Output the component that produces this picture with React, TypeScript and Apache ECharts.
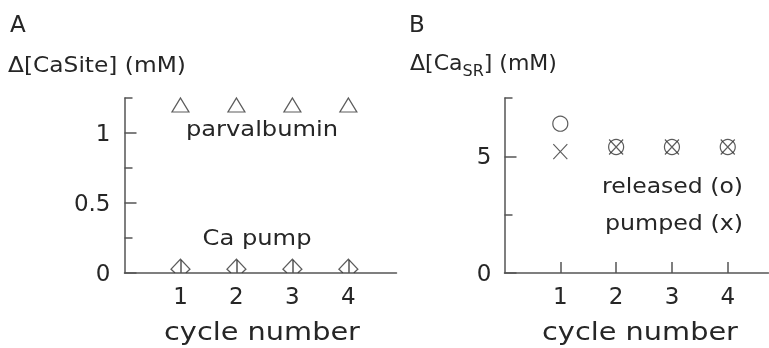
import React, { useEffect, useRef } from "react";
import * as echarts from "echarts";

// ---- data ----
const cycles = [1, 2, 3, 4];
const parvalbumin = [1.2, 1.2, 1.2, 1.2];
const caPump = [0.027, 0.027, 0.027, 0.027];
const released = [6.4, 5.4, 5.4, 5.4];
const pumped = [5.2, 5.4, 5.4, 5.4];

const yMajorA = [0, 0.5, 1];
const yMinorA = [0.25, 0.75, 1.25];
const yMajorB = [0, 5];
const yMinorB = [2.5, 7.5];
const xTicks = [1, 2, 3, 4];

const FONT = "DejaVu Sans";
const TXT = "#262626";
const AX = "#555";

const pairs = (ys: number[]) => cycles.map((c, i) => [c, ys[i]]);

export default function App() {
  const ref = useRef<HTMLDivElement>(null);
  useEffect(() => {
    const chart = echarts.init(ref.current!, null, { renderer: "svg" });
    const axisLine = { show: true, lineStyle: { color: AX, width: 1.5 } };
    const xAxis = (gridIndex: number, max: number, tickLen: number) => ({
      type: "value",
      gridIndex,
      min: 0,
      max,
      axisLine,
      splitLine: { show: false },
      axisTick: { show: true, inside: true, length: tickLen, customValues: xTicks, lineStyle: { color: AX, width: 1.5 } },
      axisLabel: { customValues: xTicks, margin: 11, fontSize: 23, fontFamily: FONT, color: TXT },
    });
    const yAxes = (gridIndex: number, max: number, major: number[], minor: number[], margin: number) => [
      {
        type: "value",
        gridIndex,
        min: 0,
        max,
        position: "left",
        axisLine,
        splitLine: { show: false },
        axisTick: { show: true, inside: true, length: 8, customValues: minor, lineStyle: { color: AX, width: 1.5 } },
        axisLabel: { customValues: major, margin, fontSize: 23, fontFamily: FONT, color: TXT },
      },
      {
        type: "value",
        gridIndex,
        min: 0,
        max,
        position: "left",
        axisLine: { show: false },
        splitLine: { show: false },
        axisTick: { show: true, inside: true, length: 12, customValues: major, lineStyle: { color: AX, width: 1.5 } },
        axisLabel: { show: false },
      },
    ];
    const mark = { color: "transparent", borderColor: "#333", borderWidth: 1.2 };
    const XPATH = "path://M0,0L10,10M0,10L10,0";
    // diamond whose lower tip is hidden below the x axis
    const DIAMOND = "path://M4,13.7L0,10L9.5,0L19,10L15,13.7";
    const txt = (text: string, x: number, y: number, size: number, align: string, scaleX = 1) => ({
      type: "text",
      x,
      y,
      scaleX,
      silent: true,
      style: { text, fontSize: size, fontFamily: FONT, fill: TXT, align, verticalAlign: "middle" },
    });

    chart.setOption({
      animation: false,
      grid: [
        { left: 124.5, top: 98, width: 272, height: 175 },
        { left: 504.5, top: 98, width: 264, height: 175 },
      ],
      xAxis: [xAxis(0, 4.86, 13), xAxis(1, 4.73, 11)],
      yAxis: [...yAxes(0, 1.25, yMajorA, yMinorA, 14), ...yAxes(1, 7.5, yMajorB, yMinorB, 13)],
      series: [
        {
          type: "scatter",
          name: "parvalbumin",
          xAxisIndex: 0,
          yAxisIndex: 0,
          data: pairs(parvalbumin),
          symbol: "triangle",
          symbolSize: [17, 14],
          itemStyle: mark,
        },
        {
          type: "scatter",
          name: "Ca pump",
          xAxisIndex: 0,
          yAxisIndex: 0,
          data: pairs(caPump),
          symbol: DIAMOND,
          symbolSize: [19, 13.7],
          symbolOffset: [0, -3.2],
          itemStyle: mark,
        },
        {
          type: "scatter",
          name: "released",
          xAxisIndex: 1,
          yAxisIndex: 2,
          data: pairs(released),
          symbol: "circle",
          symbolSize: 15,
          itemStyle: mark,
        },
        {
          type: "scatter",
          name: "pumped",
          xAxisIndex: 1,
          yAxisIndex: 2,
          data: pairs(pumped),
          symbol: XPATH,
          symbolSize: [14, 15],
          itemStyle: mark,
        },
      ],
      graphic: [
        txt("A", 10, 24, 23, "left"),
        txt("B", 409, 24, 23, "left"),
        txt("\u0394[CaSite] (mM)", 8, 64, 22, "left", 1.06),
        {
          type: "text",
          x: 410,
          y: 62,
          silent: true,
          style: {
            text: "{a|\u0394[Ca}{s|SR}{a|] (mM)}",
            align: "left",
            verticalAlign: "middle",
            rich: {
              a: { fontSize: 22, fontFamily: FONT, fill: TXT, color: TXT },
              s: { fontSize: 16, fontFamily: FONT, fill: TXT, color: TXT, padding: [16, 0, 0, 0] },
            },
          },
        },
        txt("parvalbumin", 262, 128, 22, "center", 1.1),
        txt("Ca pump", 257, 237, 22, "center", 1.1),
        txt("released (o)", 743, 185, 22, "right", 1.07),
        txt("pumped (x)", 743, 222, 22, "right", 1.08),
        txt("cycle number", 262, 331, 24, "center", 1.2),
        txt("cycle number", 640, 331, 24, "center", 1.2),
      ],
    });
    return () => chart.dispose();
  }, []);
  return <div ref={ref} style={{ position: "fixed", left: 0, top: 0, width: 769, height: 348 }} />;
}
